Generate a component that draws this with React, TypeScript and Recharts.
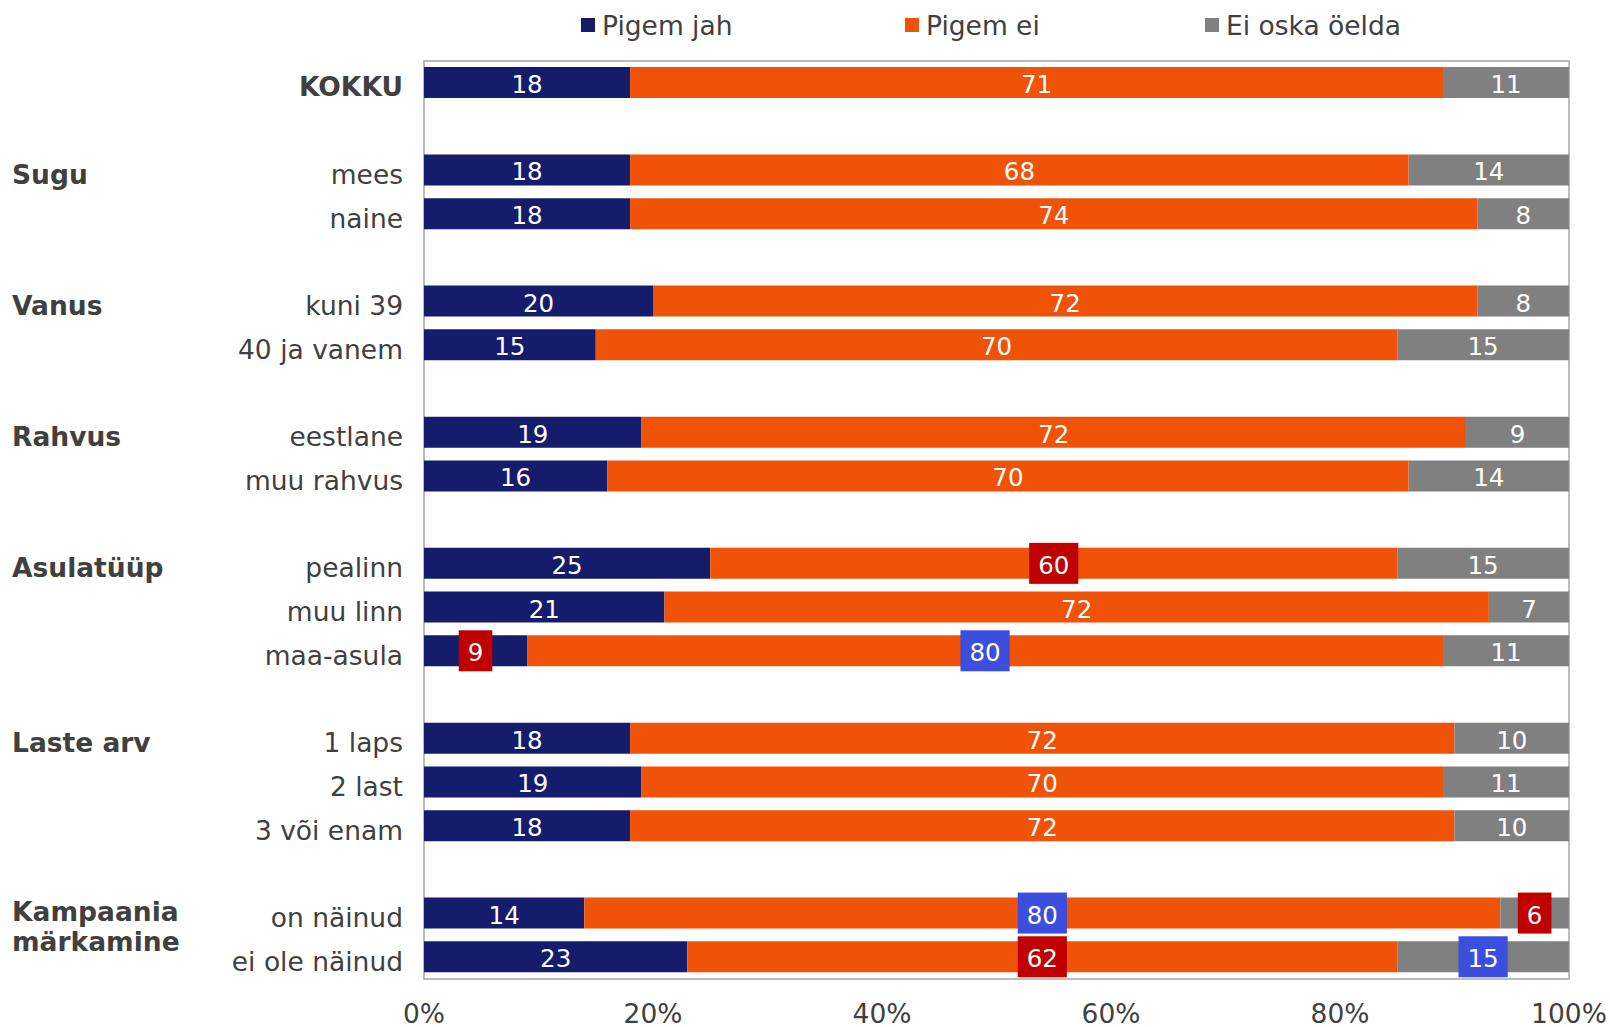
import { BarChart, Bar, XAxis, YAxis, Legend, LabelList, ReferenceArea } from "recharts";

const categories = ["KOKKU", "", "mees", "naine", "", "kuni 39", "40 ja vanem", "", "eestlane", "muu rahvus", "", "pealinn", "muu linn", "maa-asula", "", "1 laps", "2 last", "3 või enam", "", "on näinud", "ei ole näinud"];
const groups = ["", "", "Sugu", "", "", "Vanus", "", "", "Rahvus", "", "", "Asulatüüp", "", "", "", "Laste arv", "", "", "", "Kampaania\nmärkamine", ""];
const pigemJah = [18, null, 18, 18, null, 20, 15, null, 19, 16, null, 25, 21, 9, null, 18, 19, 18, null, 14, 23];
const pigemEi = [71, null, 68, 74, null, 72, 70, null, 72, 70, null, 60, 72, 80, null, 72, 70, 72, null, 80, 62];
const eiOska = [11, null, 14, 8, null, 8, 15, null, 9, 14, null, 15, 7, 11, null, 10, 11, 10, null, 6, 15];
// oluliselt madalam / kõrgem (rea indeks -> märk)
const jahMark: Record<number, string> = { 13: "low" };
const eiMark: Record<number, string> = { 11: "low", 13: "high", 19: "high", 20: "low" };
const oskaMark: Record<number, string> = { 19: "low", 20: "high" };
const xTicks = [0, 20, 40, 60, 80, 100];

const FONT = "'DejaVu Sans', Verdana, sans-serif";
const TXT = "#404040";
const FS = 26.5;
const LFS = 24.5;

const data = categories.map((c, i) => ({
  key: "r" + i,
  jah: pigemJah[i],
  ei: pigemEi[i],
  oska: eiOska[i],
  jahMark: jahMark[i] || "",
  eiMark: eiMark[i] || "",
  oskaMark: oskaMark[i] || "",
}));

const series = [
  { key: "jah", name: "Pigem jah", color: "#151C6C", lx: 581 },
  { key: "ei", name: "Pigem ei", color: "#F05308", lx: 905 },
  { key: "oska", name: "Ei oska öelda", color: "#808080", lx: 1205 },
];

function labelValue(k: string) {
  return (d: any) => {
    const row = d && d.payload ? d.payload : d;
    if (!row || row[k] == null) return null;
    return row[k] + "|" + (row[k + "Mark"] || "");
  };
}

function BarLabel(props: any) {
  const vb = props.viewBox || props;
  const { x, y, width, height } = vb;
  if (props.value == null) return null;
  const [v, m] = String(props.value).split("|");
  const cx = x + width / 2;
  const cy = y + height / 2;
  const tw = v.length * 0.636 * LFS + 18;
  return (
    <g>
      {m && <rect x={cx - tw / 2} y={cy - 20.5} width={tw} height={41} fill={m === "low" ? "#C00000" : "#3B4EDD"} />}
      <text x={cx} y={cy + 2} textAnchor="middle" dominantBaseline="central" fill="#fff" fontSize={LFS} fontFamily={FONT}>
        {v}
      </text>
    </g>
  );
}

function YTick(props: any) {
  const { y, payload } = props;
  const i = payload.index;
  const lab = categories[i];
  const grp = groups[i];
  const bold = lab === "KOKKU";
  const lines = grp ? grp.split("\n") : [];
  return (
    <g>
      <text x={403} y={y + 4} textAnchor="end" dominantBaseline="central" fill={TXT} fontSize={FS} fontFamily={FONT} fontWeight={bold ? "bold" : "normal"}>
        {lab}
      </text>
      {lines.map((line, k) => (
        <text key={k} x={12} y={y + (lines.length > 1 ? -2 + k * 30 : 4)} dominantBaseline="central" fill={TXT} fontSize={FS} fontFamily={FONT} fontWeight="bold">
          {line}
        </text>
      ))}
    </g>
  );
}

function XTick(props: any) {
  const { x, y, payload } = props;
  return (
    <text x={x} y={y + 34} textAnchor="middle" dominantBaseline="central" fill={TXT} fontSize={FS} fontFamily={FONT}>
      {payload.value + "%"}
    </text>
  );
}

function LegendBox() {
  return (
    <div style={{ position: "relative", height: 40, width: 1610 }}>
      {series.map((s) => (
        <div key={s.key} style={{ position: "absolute", left: s.lx, top: 0, height: 40, display: "flex", alignItems: "center", fontFamily: FONT, fontSize: FS, color: TXT, whiteSpace: "nowrap" }}>
          <span style={{ display: "inline-block", width: 14, height: 14, background: s.color, marginRight: 7 }} />
          <span>{s.name}</span>
        </div>
      ))}
    </div>
  );
}

export default function App() {
  return (
    <div style={{ position: "absolute", left: 0, top: 0, width: 1610, height: 1027, background: "#fff" }}>
      <BarChart
        width={1610}
        height={1027}
        data={data}
        layout="vertical"
        margin={{ top: 21, right: 41, bottom: 0, left: 0 }}
        barSize={31}
      >
        <Legend verticalAlign="top" content={() => <LegendBox />} wrapperStyle={{ top: 5, left: 0, width: 1610 }} />
        <XAxis type="number" domain={[0, 100]} ticks={xTicks} axisLine={false} tickLine={false} tickSize={0} tickMargin={0} tick={<XTick />} height={48} />
        <YAxis type="category" dataKey="key" width={424} axisLine={false} tickLine={false} tickSize={0} tickMargin={0} interval={0} tick={<YTick />} />
        <ReferenceArea x1={0} x2={100} fill="none" stroke="#A6A6A6" strokeWidth={1.5} />
        {series.map((s) => (
          <Bar key={s.key} dataKey={s.key} name={s.name} stackId="a" fill={s.color} isAnimationActive={false}>
            <LabelList dataKey={labelValue(s.key)} content={<BarLabel />} />
          </Bar>
        ))}
      </BarChart>
    </div>
  );
}
